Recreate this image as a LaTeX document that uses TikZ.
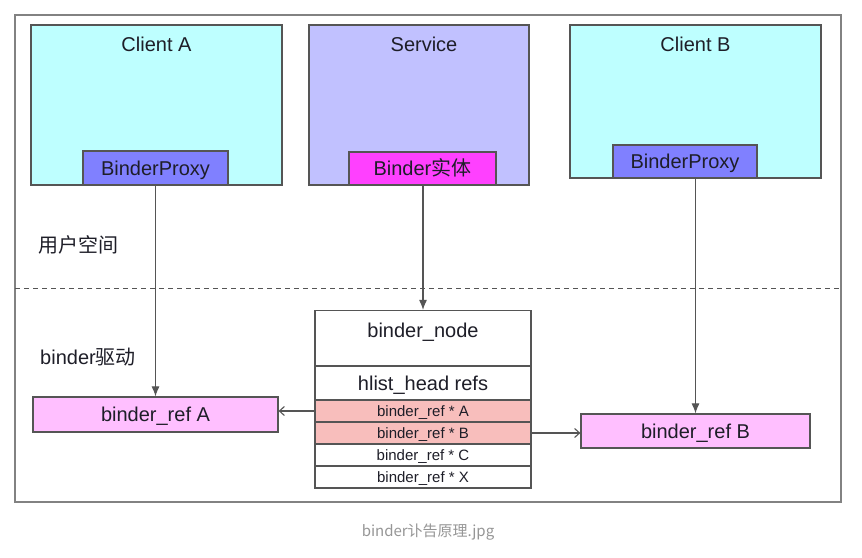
\documentclass[tikz,border=0pt]{standalone}
\usepackage{fontspec}
\setmainfont{Liberation Sans}
\newfontfamily\cjk{Noto Sans CJK SC}
\usetikzlibrary{arrows.meta}

\definecolor{clientcyan}{RGB}{190,255,255}
\definecolor{servicepurple}{RGB}{193,193,255}
\definecolor{proxyblue}{RGB}{128,128,255}
\definecolor{entitymagenta}{RGB}{255,64,255}
\definecolor{refpink}{RGB}{255,191,255}
\definecolor{rowred}{RGB}{248,190,188}
\definecolor{boxline}{RGB}{85,85,85}
\definecolor{frameline}{RGB}{130,130,130}
\definecolor{textdark}{RGB}{30,30,40}
\definecolor{captiongray}{RGB}{150,150,150}

\tikzset{
  box/.style={draw=boxline, line width=1.2pt, inner sep=0pt, text=textdark},
  bigtext/.style={font=\fontsize{20}{24}\selectfont, text=textdark, inner sep=0pt, text height=14pt, text depth=0pt},
  smalltext/.style={font=\fontsize{15}{18}\selectfont, text height=10.5pt, text depth=0pt},
  down/.style={draw=boxline, line width=1.1pt, -{Latex[length=10pt,width=8pt]}},
  side/.style={draw=boxline, line width=1.1pt, -{Straight Barb[length=5pt,width=9pt]}},
}

\begin{document}
\begin{tikzpicture}[x=1pt, y=-1pt]
  \useasboundingbox[fill=white] (0,0) rectangle (862,557);
  \draw[frameline, line width=1.6pt] (15,15) rectangle (841,502);
  \draw[boxline, line width=1pt, dash pattern=on 5pt off 4pt] (15,288) -- (841,288);

  \node[box, fill=clientcyan, minimum width=251pt, minimum height=160pt] (clientA) at (156.5,105) {};
  \node[box, fill=servicepurple, minimum width=220pt, minimum height=160pt] (service) at (419,105) {};
  \node[box, fill=clientcyan, minimum width=251pt, minimum height=153pt] (clientB) at (695.5,101.5) {};
  \node[bigtext] (clientAtitle) at (156.5,44) {Client A};
  \node[bigtext] (servicetitle) at (424,44) {Service};
  \node[bigtext] (clientBtitle) at (695.5,44) {Client B};

  \node[box, bigtext, fill=proxyblue, minimum width=145pt, minimum height=34pt] (proxyA) at (155.5,168) {BinderProxy};
  \node[box, bigtext, fill=entitymagenta, minimum width=147pt, minimum height=33pt] (entity) at (422.5,168.5) {Binder{\cjk 实体}};
  \node[box, bigtext, fill=proxyblue, minimum width=144pt, minimum height=33pt] (proxyB) at (685,161.5) {BinderProxy};

  \node[bigtext, anchor=west] (userspace) at (38,245) {\cjk 用户空间};
  \node[bigtext, anchor=west] (driver) at (40,357) {binder{\cjk 驱动}};

  \node[box, fill=white, minimum width=216pt, minimum height=55pt] (bnode) at (423,338) {};
  \node[bigtext] (bnodetext) at (423,330) {binder\_node};
  \node[box, bigtext, fill=white, minimum width=216pt, minimum height=34pt] (refs) at (423,383) {hlist\_head refs};
  \node[box, smalltext, fill=rowred, minimum width=216pt, minimum height=22pt] (rowA) at (423,411) {binder\_ref * A};
  \node[box, smalltext, fill=rowred, minimum width=216pt, minimum height=22pt] (rowB) at (423,433) {binder\_ref * B};
  \node[box, smalltext, fill=white, minimum width=216pt, minimum height=22pt] (rowC) at (423,455) {binder\_ref * C};
  \node[box, smalltext, fill=white, minimum width=216pt, minimum height=22pt] (rowX) at (423,477) {binder\_ref * X};

  \node[box, bigtext, fill=refpink, minimum width=245pt, minimum height=35pt] (refA) at (155.5,414.5) {binder\_ref A};
  \node[box, bigtext, fill=refpink, minimum width=229pt, minimum height=34pt] (refB) at (695.5,431) {binder\_ref B};

  \draw[down] (proxyA.south) -- (refA.north);
  \draw[down] (entity.south -| bnode.north) -- (bnode.north);
  \draw[down] (refB.north |- proxyB.south) -- (refB.north);
  \draw[side] (rowA.west) -- (rowA.west -| refA.east);
  \draw[side] (rowB.east) -- (rowB.east -| refB.west);

  \node[font=\cjk\fontsize{15}{18}\selectfont, text=captiongray] (caption) at (428,532) {binder讣告原理.jpg};
\end{tikzpicture}
\end{document}
